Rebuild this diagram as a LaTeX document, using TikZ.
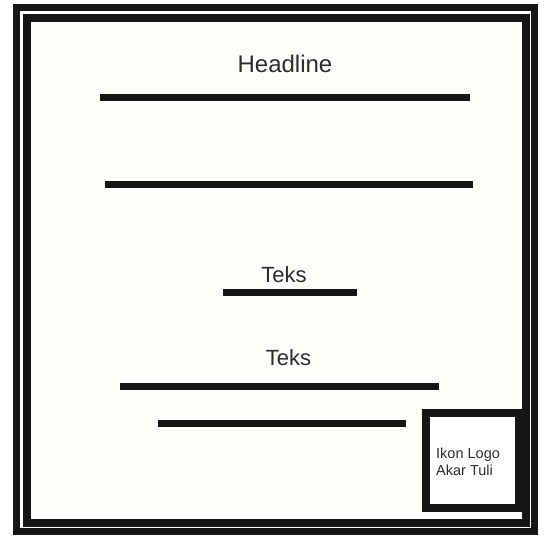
\documentclass[tikz,border=0pt]{standalone}
\usepackage{fontspec}
\setmainfont{Liberation Sans}
\definecolor{ink}{RGB}{22,22,22}
\definecolor{txt}{RGB}{45,45,45}
\definecolor{paper}{RGB}{253,254,250}
\begin{document}
\begin{tikzpicture}[x=1pt,y=-1pt,
  bar/.style={line width=7pt,draw=ink},
  label/.style={inner sep=0pt,text=txt,anchor=base},
  logotext/.style={inner sep=0pt,text=txt,anchor=base west,font=\fontsize{14.5}{17}\selectfont}]
\useasboundingbox (0,0) rectangle (546,538);
\fill[white] (0,0) rectangle (546,538);
% frames
\draw[draw=ink,line width=7pt,fill=white] (16.5,7.5) rectangle (534.5,531.5);
\draw[draw=ink,line width=8pt,fill=paper] (27,18) rectangle (526,523);
% headline
\node[label,font=\fontsize{24}{28}\selectfont] (headline) at (285,72) {Headline};
\draw[bar] (100,97) -- (470,97);
\draw[bar] (105,184) -- (473,184);
% teks 1
\node[label,font=\fontsize{22}{26}\selectfont] (teks1) at (284,282) {Teks};
\draw[bar,line width=6.5pt] (223,292.5) -- (357,292.5);
% teks 2
\node[label,font=\fontsize{22}{26}\selectfont] (teks2) at (288.5,365) {Teks};
\draw[bar] (120,386.5) -- (439,386.5);
\draw[bar] (158,423.5) -- (406,423.5);
% logo box
\draw[draw=ink,line width=8pt,fill=white] (426,413) rectangle (519,508);
\node[logotext] (logo1) at (436,458) {Ikon Logo};
\node[logotext] (logo2) at (436,475) {Akar Tuli};
\end{tikzpicture}
\end{document}
